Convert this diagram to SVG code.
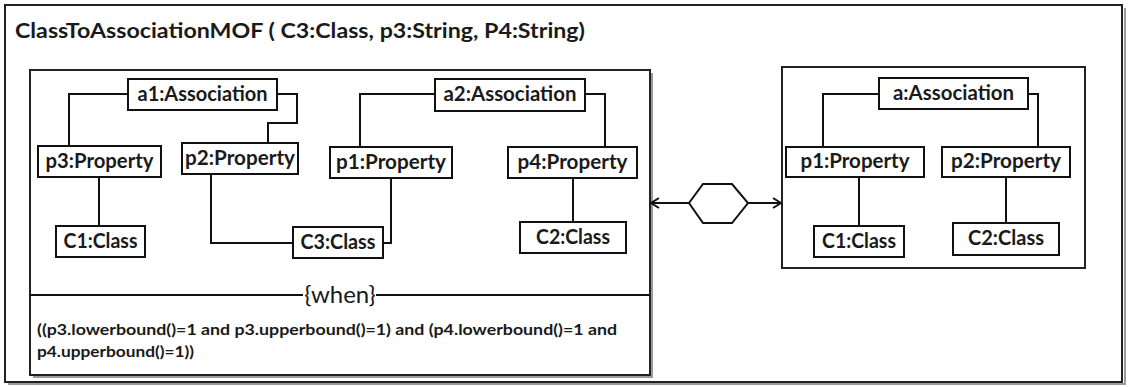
<svg xmlns="http://www.w3.org/2000/svg" width="1128" height="387" viewBox="0 0 1128 387">
<defs>
<style>
.frame{fill:#fff;stroke:#222;stroke-width:2}
.shadow{fill:none;stroke:#9a9a9a;stroke-width:2}
.box{fill:#fff;stroke:#111;stroke-width:2}
.lbl{font-family:Lato,"Liberation Sans",sans-serif;font-weight:bold;font-size:20px;fill:#1a1a1a;text-anchor:middle}
.con{fill:none;stroke:#111;stroke-width:2}
.title{font-family:Lato,"Liberation Sans",sans-serif;font-weight:bold;font-size:20px;fill:#1a1a1a}
.cond{font-family:Lato,"Liberation Sans",sans-serif;font-weight:bold;font-size:16px;fill:#1a1a1a}
.when{font-family:Lato,"Liberation Sans",sans-serif;font-size:24px;fill:#1a1a1a;text-anchor:middle}
</style>
<marker id="arr" viewBox="0 0 10 12" refX="9" refY="6" markerWidth="10" markerHeight="12" markerUnits="userSpaceOnUse" orient="auto-start-reverse">
<path d="M1,1 L9,6 L1,11" fill="none" stroke="#111" stroke-width="2"/>
</marker>
</defs>
<rect x="0" y="0" width="1128" height="387" fill="#fff"/>
<g id="frame">
<path class="shadow" d="M8,384 H1125 V8"/>
<rect class="frame" x="5" y="5" width="1117" height="377"/>
<text class="title" x="15" y="38" textLength="570" lengthAdjust="spacingAndGlyphs">ClassToAssociationMOF ( C3:Class, p3:String, P4:String)</text>
</g>
<g id="lhs">
<path class="shadow" d="M33,377 H652 V73"/>
<rect class="frame" x="30" y="70" width="620" height="305"/>
<line class="con" x1="30" y1="295" x2="303" y2="295"/>
<line class="con" x1="376" y1="295" x2="650" y2="295"/>
<text class="when" x="340" y="303">{when}</text>
<text class="cond" x="37" y="335" textLength="580" lengthAdjust="spacingAndGlyphs">((p3.lowerbound()=1 and p3.upperbound()=1) and (p4.lowerbound()=1 and</text>
<text class="cond" x="37" y="357" textLength="157" lengthAdjust="spacingAndGlyphs">p4.upperbound()=1))</text>
</g>
<g id="rhs">
<rect class="frame" x="782" y="67" width="303" height="201"/>
</g>
<g id="connectors">
<path class="con" d="M128,94 H69 V146"/>
<path class="con" d="M277,94 H297 V123 H268 V143"/>
<path class="con" d="M99,177 V226"/>
<path class="con" d="M211,174 V243 H293"/>
<path class="con" d="M435,94 H360 V147"/>
<path class="con" d="M585,94 H605 V147"/>
<path class="con" d="M391,178 V243 H383"/>
<path class="con" d="M573,178 V222"/>
<path class="con" d="M879,94 H823 V147"/>
<path class="con" d="M1028,94 H1038 V147"/>
<path class="con" d="M859,177 V226"/>
<path class="con" d="M1006,177 V223"/>
<path class="con" d="M689,203 H651" marker-end="url(#arr)"/>
<path class="con" d="M748,203 H781" marker-end="url(#arr)"/>
</g>
<g id="hexagon">
<polygon class="box" points="689,203 703,184 732,184 748,203 732,223 703,223"/>
</g>
<g id="a1">
<rect class="box" x="128" y="79" width="149" height="31"/>
<text class="lbl" x="202.5" y="101" textLength="130" lengthAdjust="spacingAndGlyphs">a1:Association</text>
</g>
<g id="p3">
<rect class="box" x="38" y="146" width="123" height="31"/>
<text class="lbl" x="99.5" y="168" textLength="108" lengthAdjust="spacingAndGlyphs">p3:Property</text>
</g>
<g id="p2">
<rect class="box" x="182" y="143" width="116" height="31"/>
<text class="lbl" x="240" y="165" textLength="110" lengthAdjust="spacingAndGlyphs">p2:Property</text>
</g>
<g id="c1">
<rect class="box" x="56" y="226" width="89" height="31"/>
<text class="lbl" x="100.5" y="248" textLength="74" lengthAdjust="spacingAndGlyphs">C1:Class</text>
</g>
<g id="c3">
<rect class="box" x="293" y="227" width="90" height="31"/>
<text class="lbl" x="338" y="249" textLength="75" lengthAdjust="spacingAndGlyphs">C3:Class</text>
</g>
<g id="a2">
<rect class="box" x="435" y="79" width="150" height="32"/>
<text class="lbl" x="510" y="101" textLength="133" lengthAdjust="spacingAndGlyphs">a2:Association</text>
</g>
<g id="p1">
<rect class="box" x="330" y="147" width="122" height="31"/>
<text class="lbl" x="391" y="169" textLength="110" lengthAdjust="spacingAndGlyphs">p1:Property</text>
</g>
<g id="p4">
<rect class="box" x="508" y="147" width="129" height="31"/>
<text class="lbl" x="572.5" y="169" textLength="110" lengthAdjust="spacingAndGlyphs">p4:Property</text>
</g>
<g id="c2">
<rect class="box" x="520" y="222" width="106" height="31"/>
<text class="lbl" x="573" y="244" textLength="74" lengthAdjust="spacingAndGlyphs">C2:Class</text>
</g>
<g id="a">
<rect class="box" x="879" y="78" width="149" height="31"/>
<text class="lbl" x="953.5" y="100" textLength="121" lengthAdjust="spacingAndGlyphs">a:Association</text>
</g>
<g id="rp1">
<rect class="box" x="786" y="147" width="138" height="30"/>
<text class="lbl" x="855" y="168" textLength="109" lengthAdjust="spacingAndGlyphs">p1:Property</text>
</g>
<g id="rp2">
<rect class="box" x="942" y="147" width="128" height="30"/>
<text class="lbl" x="1006" y="168" textLength="110" lengthAdjust="spacingAndGlyphs">p2:Property</text>
</g>
<g id="rc1">
<rect class="box" x="814" y="226" width="90" height="31"/>
<text class="lbl" x="859" y="248" textLength="74" lengthAdjust="spacingAndGlyphs">C1:Class</text>
</g>
<g id="rc2">
<rect class="box" x="953" y="223" width="106" height="32"/>
<text class="lbl" x="1006" y="245" textLength="76" lengthAdjust="spacingAndGlyphs">C2:Class</text>
</g>
</svg>
